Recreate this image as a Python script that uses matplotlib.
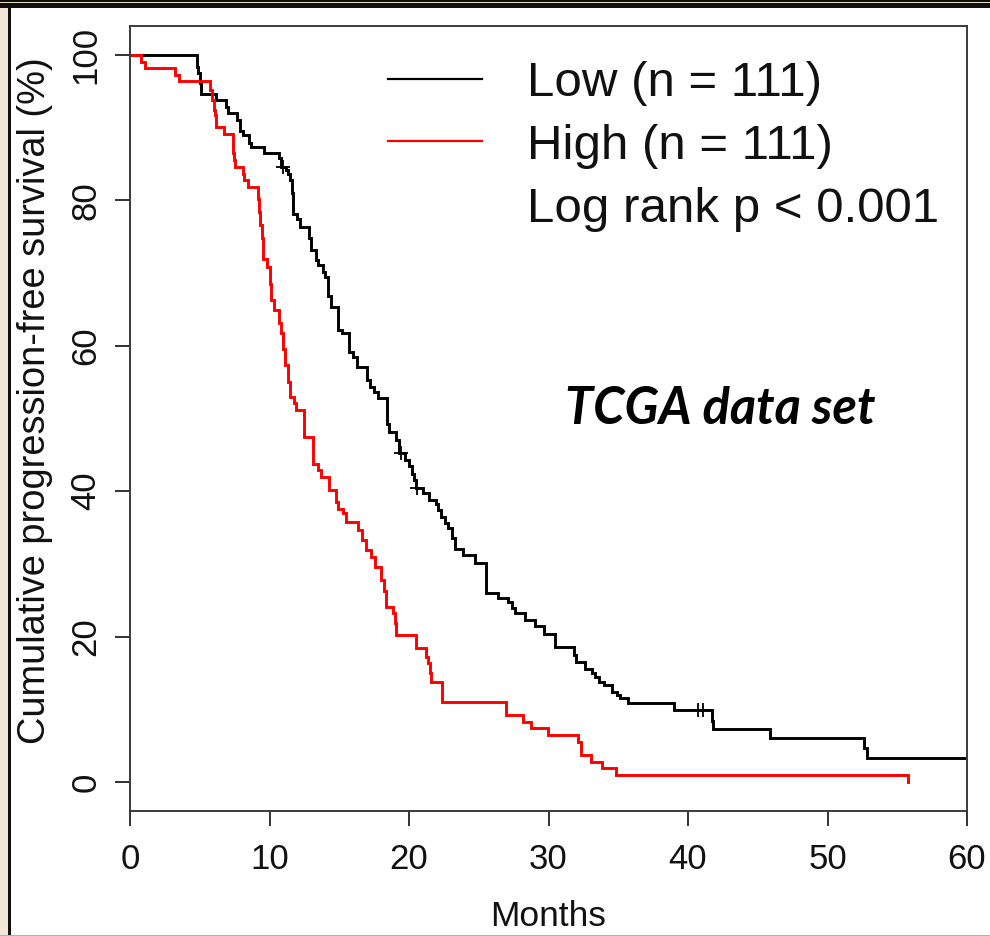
import matplotlib
matplotlib.use("Agg")
import matplotlib.pyplot as plt
from matplotlib.lines import Line2D
from matplotlib.patches import Rectangle

plt.rcParams['font.family'] = ['Liberation Sans', 'DejaVu Sans']

# ---------------- data ----------------
low_t = [0, 4.8, 4.9, 5.0, 5.1, 6.2, 6.9, 7.0, 7.7, 7.85, 8.1, 8.5, 8.7, 9.6,
         10.7, 10.85, 11.2, 11.35, 11.5, 11.6, 11.7, 11.95, 12.2, 12.8, 13.0,
         13.3, 13.5, 13.8, 14.0, 14.2, 14.4, 14.9, 15.2, 15.7, 16.0, 16.3,
         17.0, 17.2, 17.5, 17.8, 18.4, 18.6, 19.1, 19.3, 19.7, 20.0, 20.2,
         20.35, 20.5, 21.0, 21.4, 21.9, 22.1, 22.3, 22.6, 22.8, 23.1, 23.3,
         23.9, 24.7, 25.5, 26.4, 27.1, 27.4, 27.6, 28.3, 29.0, 29.7, 30.5,
         31.8, 32.0, 32.6, 33.1, 33.3, 33.6, 34.0, 34.55, 34.9, 35.1, 35.7,
         39.0, 41.7, 41.8, 45.9, 52.6, 52.8]
low_s = [100, 98.4, 97.5, 96.1, 94.7, 93.8, 92.9, 92.0, 91.1, 89.5, 89.0, 87.9,
         87.4, 86.5, 85.8, 84.6, 84.2, 83.7, 82.8, 81.0, 78.2, 77.5, 76.4, 74.8,
         73.2, 71.8, 71.1, 70.2, 69.5, 66.8, 65.4, 62.2, 61.7, 59.2, 58.5, 57.1,
         55.3, 54.4, 53.7, 52.8, 49.3, 48.2, 47.1, 45.2, 44.3, 43.4, 42.3,
         41.5, 40.4, 39.7, 38.8, 38.3, 37.4, 36.5, 35.6, 34.9, 33.5, 32.1,
         31.2, 30.1, 26.0, 25.3, 24.8, 23.9, 23.2, 22.3, 21.4, 20.4, 18.6,
         17.5, 16.5, 15.6, 15.0, 14.5, 13.8, 13.3, 12.4, 12.0, 11.5, 10.8,
         9.9, 8.4, 7.3, 6.0, 4.7, 3.3]
low_end = 60
low_cens_t = [10.95, 19.45, 20.6, 40.7, 41.1]
low_cens_s = [84.6, 45.2, 40.4, 9.9, 9.9]

high_t = [0, 0.8, 1.1, 3.2, 3.5, 5.75, 5.9, 6.0, 6.1, 6.2, 6.75, 7.35, 7.4,
          7.45, 7.5, 8.1, 8.2, 8.45, 9.15, 9.25, 9.35, 9.45, 9.55, 9.85, 10.0,
          10.1, 10.35, 10.7, 10.85, 11.0, 11.1, 11.3, 11.45, 11.75, 11.9, 12.5,
          13.1, 13.5, 13.7, 14.25, 14.8, 14.9, 15.3, 15.5, 16.35, 16.6, 16.9,
          17.3, 17.55, 18.0, 18.2, 18.35, 18.85, 19.0, 19.1, 20.5, 21.2, 21.35,
          21.5, 21.6, 22.4, 26.95, 28.15, 28.75, 29.95, 32.1, 32.35, 33.05,
          33.8, 34.85, 55.8]
high_s = [100, 99.1, 98.2, 97.3, 96.4, 95.2, 93.8, 92.5, 91.7, 90.1, 89.2, 87.4,
          86.5, 85.6, 84.6, 83.7, 82.8, 81.9, 80.2, 78.4, 76.6, 74.8, 72.0, 70.9,
          68.5, 66.3, 64.9, 63.1, 61.7, 59.5, 57.4, 55.0, 53.0, 52.1, 51.2, 47.5,
          43.8, 42.9, 42.0, 40.2, 38.5, 37.6, 37.0, 35.8, 34.7, 33.3, 31.9,
          31.0, 29.6, 27.8, 26.2, 24.1, 23.2, 21.9, 20.2, 18.4, 17.2, 16.3,
          15.0, 13.8, 11.0, 9.2, 8.3, 7.4, 6.5, 5.5, 3.7, 2.8, 1.9, 1.0, 0.0]

x_ticks = [0, 10, 20, 30, 40, 50, 60]
y_ticks = [0, 20, 40, 60, 80, 100]
legend_labels = ["Low (n = 111)", "High (n = 111)", "Log rank p < 0.001"]
x_label = "Months"
y_label = "Cumulative progression-free survival (%)"
annotation = "TCGA data set"

# ---------------- figure ----------------
W, H = 990, 936
fig = plt.figure(figsize=(W / 100, H / 100), dpi=100)
fig.patch.set_facecolor('white')

# frame decorations of the screenshot
fig.add_artist(Rectangle((0, 0), 8 / W, 1, transform=fig.transFigure,
                         facecolor='#f1e7d4', edgecolor='none', zorder=0))
fig.add_artist(Rectangle((8 / W, 0), 3 / W, 1 - 7 / H, transform=fig.transFigure,
                         facecolor='#101010', edgecolor='none', zorder=1))
fig.add_artist(Rectangle((0, 1 - 8 / H), 1, 8 / H, transform=fig.transFigure,
                         facecolor='#101010', edgecolor='none', zorder=1))
fig.add_artist(Rectangle((0, 1 - 3.2 / H), 1, 1.0 / H, transform=fig.transFigure,
                         facecolor='#e6dcc4', edgecolor='none', zorder=2))
fig.add_artist(Rectangle((0, 0), 1, 1.5 / H, transform=fig.transFigure,
                         facecolor='#b0b0b0', edgecolor='none', zorder=1))

ax = fig.add_axes([130 / W, 1 - 811 / H, 837 / W, 785 / H])
ax.set_xlim(0, 60)
ax.set_ylim(-4, 104)

lw = 2.1
ax.step(low_t + [low_end], low_s + [low_s[-1]], where='post', color='black', lw=lw,
        solid_joinstyle='miter')
ax.step(high_t, high_s, where='post', color='#ff0000', lw=lw, solid_joinstyle='miter')
ax.plot(low_cens_t, low_cens_s, linestyle='none', marker='+', color='black',
        markersize=10, markeredgewidth=1.3)

for sp in ax.spines.values():
    sp.set_color('#3a3a3a')
    sp.set_linewidth(1.4)

ax.set_xticks(x_ticks)
ax.set_xticklabels([str(v) for v in x_ticks])
ax.set_yticks(y_ticks)
ax.set_yticklabels([str(v) for v in y_ticks], rotation=90, va='center')
ax.tick_params(axis='both', direction='out', length=10.8, width=1.3,
               color='#222222', labelsize=25, labelcolor='#111111')
ax.tick_params(axis='x', pad=12)
ax.tick_params(axis='y', pad=9)

ax.set_xlabel(x_label, fontsize=25.5, color='#111111')
ax.xaxis.set_label_coords(0.5, (811 - 900) / 785)
ax.set_ylabel(y_label, fontsize=27.4, color='#111111')
ax.yaxis.set_label_coords((53 - 130) / 837, (811 - 401) / 785)

handles = [Line2D([], [], color='black', lw=1.6),
           Line2D([], [], color='#ff0000', lw=1.6),
           Line2D([], [], color='none', lw=0)]
leg = ax.legend(handles, legend_labels, loc='upper left',
                bbox_to_anchor=((388 - 130) / 837, (811 - 61) / 785),
                frameon=False, fontsize=35.5, handlelength=1.9,
                handletextpad=0.91, labelspacing=0.36, borderpad=0,
                borderaxespad=0)
for t in leg.get_texts():
    t.set_color('#111111')

ax.text((720 - 130) / 837, (811 - 409) / 785, annotation, transform=ax.transAxes,
        ha='center', va='center', fontsize=36.4, fontweight='bold', style='italic',
        family=['Lato', 'Open Sans', 'DejaVu Sans'], color='black')

fig.savefig('out.png', dpi=100)
